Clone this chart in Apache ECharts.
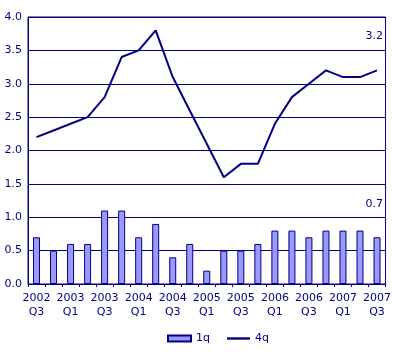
<!DOCTYPE html>
<html><head><meta charset="utf-8">
<script src="https://cdn.jsdelivr.net/npm/echarts@6/dist/echarts.min.js"></script>
<style>html,body{margin:0;padding:0;background:#fff}#c{width:394px;height:358px}</style>
</head><body><div id="c"></div>
<script>
const categories = ['2002\nQ3','2002\nQ4','2003\nQ1','2003\nQ2','2003\nQ3','2003\nQ4','2004\nQ1','2004\nQ2','2004\nQ3','2004\nQ4','2005\nQ1','2005\nQ2','2005\nQ3','2005\nQ4','2006\nQ1','2006\nQ2','2006\nQ3','2006\nQ4','2007\nQ1','2007\nQ2','2007\nQ3'];
const q1 = [0.7,0.5,0.6,0.6,1.1,1.1,0.7,0.9,0.4,0.6,0.2,0.5,0.5,0.6,0.8,0.8,0.7,0.8,0.8,0.8,0.7];
const q4 = [2.2,2.3,2.4,2.5,2.8,3.4,3.5,3.8,3.1,2.6,2.1,1.6,1.8,1.8,2.4,2.8,3.0,3.2,3.1,3.1,3.2];
const yTicks = [0,0.5,1,1.5,2,2.5,3,3.5,4];
const lastLabels = ['3.2','0.7'];
const navy = '#000080';
const font = 'DejaVu Sans';
const chart = echarts.init(document.getElementById('c'), null, {renderer:'canvas'});
chart.setOption({
  animation:false,
  textStyle:{fontFamily:font},
  grid:{left:28,right:7,top:17,bottom:74,show:true,borderColor:navy,borderWidth:1},
  xAxis:{type:'category',data:categories,boundaryGap:true,
    axisLine:{lineStyle:{color:navy,width:1}},
    axisTick:{show:true,length:3,interval:0,lineStyle:{color:navy}},
    axisLabel:{interval:1,color:navy,fontFamily:font,fontSize:11,lineHeight:14,margin:7}},
  yAxis:{type:'value',min:yTicks[0],max:yTicks[yTicks.length-1],interval:0.5,
    axisLine:{show:true,lineStyle:{color:navy,width:1}},
    axisTick:{show:false},
    axisLabel:{color:navy,fontFamily:font,fontSize:11,margin:6,formatter:v=>v.toFixed(1)},
    splitLine:{lineStyle:{color:navy,width:1}}},
  legend:{bottom:9,left:162,itemGap:17,itemWidth:23,itemHeight:6,
    textStyle:{color:navy,fontFamily:font,fontSize:11},
    data:[{name:'1q',icon:'rect'},{name:'4q',icon:'path://M0,0H24V2.5H0Z'}]},
  graphic:[
    {type:'text',right:11,top:31,style:{text:lastLabels[0],fill:navy,font:'11px "DejaVu Sans"'}},
    {type:'text',right:11,top:199,style:{text:lastLabels[1],fill:navy,font:'11px "DejaVu Sans"'}}
  ],
  series:[
    {name:'1q',type:'bar',data:q1,barWidth:7,itemStyle:{color:'#9999ff',borderColor:navy,borderWidth:1}},
    {name:'4q',type:'line',data:q4,symbol:'none',lineStyle:{color:navy,width:2},itemStyle:{color:navy}}
  ]
});
</script></body></html>
